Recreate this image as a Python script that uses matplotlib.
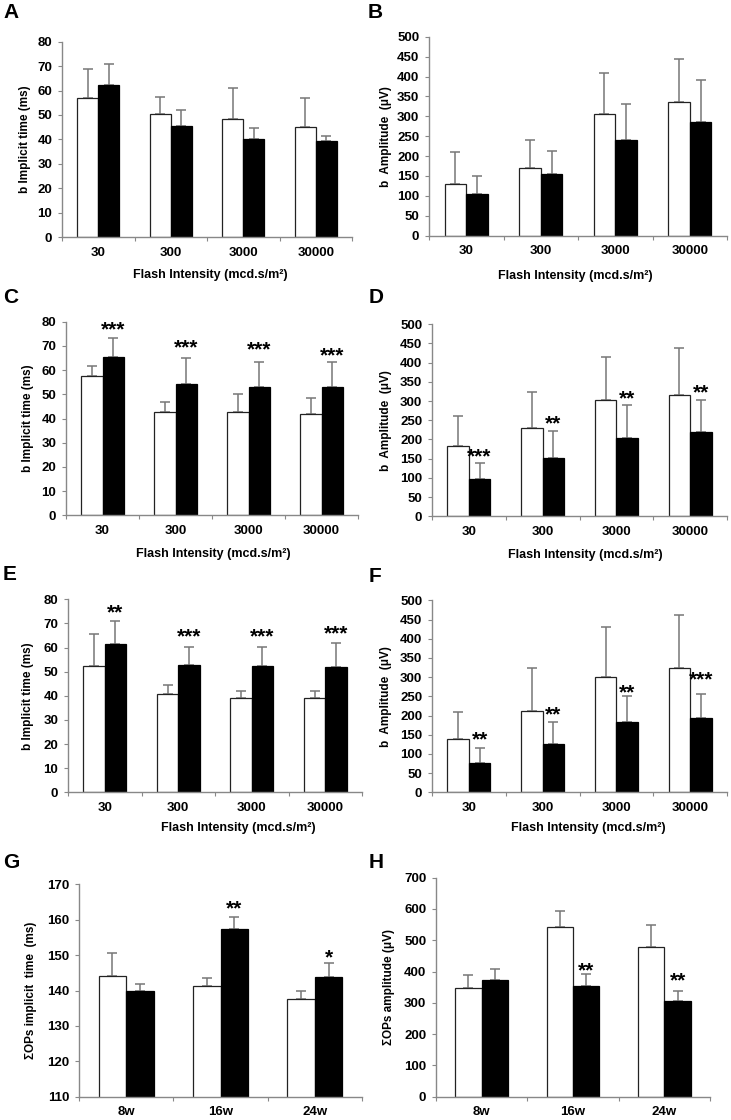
import numpy as np
import matplotlib
matplotlib.use("Agg")
import matplotlib.pyplot as plt

plt.rcParams['font.family'] = ['Liberation Sans', 'DejaVu Sans']
plt.rcParams['font.weight'] = 'bold'

W, H = 731, 1120

flash = ['30', '300', '3000', '30000']
weeks = ['8w', '16w', '24w']

# A: b-wave implicit time
a_white = [56.8, 50.3, 48.4, 45.0]
a_white_sd = [11.9, 6.9, 12.5, 11.8]
a_black = [62.3, 45.5, 40.2, 39.2]
a_black_sd = [8.5, 6.4, 4.5, 2.1]
a_stars = ['', '', '', '']
a_star_y = [0, 0, 0, 0]

# B: b-wave amplitude
b_white = [129, 169, 307, 337]
b_white_sd = [82, 71, 103, 107]
b_black = [105, 154, 240, 286]
b_black_sd = [45, 60, 92, 104]
b_stars = ['', '', '', '']
b_star_y = [0, 0, 0, 0]

# C
c_white = [57.6, 42.6, 42.8, 41.9]
c_white_sd = [4.0, 4.1, 7.5, 6.4]
c_black = [65.3, 54.3, 53.2, 52.9]
c_black_sd = [8.1, 10.9, 10.0, 10.3]
c_stars = ['***', '***', '***', '***']
c_star_y = [79.6, 72.0, 71.3, 68.6]

# D
d_white = [182, 229, 302, 315]
d_white_sd = [80, 95, 113, 123]
d_black = [97, 152, 203, 220]
d_black_sd = [41, 71, 87, 83]
d_stars = ['***', '**', '**', '**']
d_star_y = [173, 260, 325, 340]

# E
e_white = [52.3, 40.9, 39.0, 39.0]
e_white_sd = [13.3, 3.6, 3.1, 3.1]
e_black = [61.3, 52.6, 52.3, 51.9]
e_black_sd = [9.7, 7.8, 8.1, 9.8]
e_stars = ['**', '***', '***', '***']
e_star_y = [77.2, 67.3, 67.3, 68.6]

# F
f_white = [138, 213, 299, 324]
f_white_sd = [72, 111, 132, 139]
f_black = [75.5, 127, 184, 194]
f_black_sd = [40.5, 56, 66, 61]
f_stars = ['**', '**', '**', '***']
f_star_y = [156, 220, 277, 312]

# G: sum of OPs implicit time
g_white = [144.1, 141.2, 137.5]
g_white_sd = [6.4, 2.3, 2.4]
g_black = [139.9, 157.4, 143.8]
g_black_sd = [1.9, 3.5, 3.9]
g_stars = ['', '**', '*']
g_star_y = [0, 165.1, 151.3]

# H: sum of OPs amplitude
h_white = [348, 543, 479]
h_white_sd = [41, 51, 69]
h_black = [373, 354, 306]
h_black_sd = [36, 37, 31]
h_stars = ['', '**', '**']
h_star_y = [0, 423, 394]

fig = plt.figure(figsize=(W / 100, H / 100), dpi=100)


def panel(rect, letter, letter_xy, cats, white, white_sd, black, black_sd,
          stars, star_y, ylim, ystep, ylabel, ylabel_x, xlabel_xy=None):
    left, right, top, bottom = rect
    ax = fig.add_axes([left / W, 1 - bottom / H, (right - left) / W, (bottom - top) / H])
    x = np.arange(len(cats))
    w = 0.29
    ax.bar(x - w / 2, white, w, color='white', edgecolor='#222222', linewidth=0.9, zorder=2)
    ax.bar(x + w / 2, black, w, color='black', edgecolor='black', linewidth=0.9, zorder=2)
    for xs, m, sd in ((x - w / 2, white, white_sd), (x + w / 2, black, black_sd)):
        ax.errorbar(xs, m, yerr=[np.zeros(len(sd)), sd], fmt='none', ecolor='#777777',
                    elinewidth=1.1, capsize=3.5, capthick=1.1, zorder=1)
    for xi, s, sy in zip(x, stars, star_y):
        if s:
            ax.annotate(s, (xi + w / 2, sy), xytext=(0, -9), textcoords='offset points',
                        ha='center', va='baseline', fontsize=15, fontweight='bold')

    ax.set_xlim(-0.5, len(cats) - 0.5)
    ax.set_ylim(*ylim)
    ax.set_yticks(np.arange(ylim[0], ylim[1] + ystep / 2, ystep))
    ax.set_xticks(np.arange(-0.5, len(cats), 1.0))
    ax.set_xticklabels([])
    ax.set_xticks(x, minor=True)
    ax.set_xticklabels(cats, minor=True)
    ax.tick_params(axis='x', which='major', length=3, color='#888888', direction='out')
    ax.tick_params(axis='x', which='minor', length=0, pad=7, labelsize=9.5)
    ax.tick_params(axis='y', length=3, color='#888888', direction='out', pad=4, labelsize=9.5)
    for side in ('top', 'right'):
        ax.spines[side].set_visible(False)
    for side in ('left', 'bottom'):
        ax.spines[side].set_color('#888888')
        ax.spines[side].set_linewidth(1.0)

    yc = (top + bottom) / 2
    fig.text(ylabel_x / W, 1 - yc / H, ylabel, rotation=90, ha='center', va='center',
             fontsize=8.5, fontweight='bold')
    if xlabel_xy is not None:
        fig.text(xlabel_xy[0] / W, 1 - xlabel_xy[1] / H, 'Flash Intensity (mcd.s/m²)',
                 ha='center', va='center', fontsize=9, fontweight='bold')
    fig.text(letter_xy[0] / W, 1 - letter_xy[1] / H, letter, ha='left', va='center',
             fontsize=15, fontweight='bold')
    return ax


panel((62, 352, 41.7, 237), 'A', (3, 13), flash, a_white, a_white_sd, a_black, a_black_sd,
      a_stars, a_star_y, (0, 80), 10, 'b Implicit time (ms)', 25, (210, 275))
panel((429, 727, 36.7, 235.7), 'B', (368, 13), flash, b_white, b_white_sd, b_black, b_black_sd,
      b_stars, b_star_y, (0, 500), 50, 'b  Amplitude  (μV)', 386, (575, 276))
panel((66, 358, 321.7, 515.3), 'C', (3, 298), flash, c_white, c_white_sd, c_black, c_black_sd,
      c_stars, c_star_y, (0, 80), 10, 'b Implicit time (ms)', 28, (213, 554))
panel((432, 727, 324.3, 516.3), 'D', (369, 298), flash, d_white, d_white_sd, d_black, d_black_sd,
      d_stars, d_star_y, (0, 500), 50, 'b  Amplitude  (μV)', 386, (585, 555))
panel((68, 362, 599.3, 792.3), 'E', (3, 574), flash, e_white, e_white_sd, e_black, e_black_sd,
      e_stars, e_star_y, (0, 80), 10, 'b Implicit time (ms)', 28, (238, 828))
panel((432, 727, 600.3, 792.3), 'F', (369, 577), flash, f_white, f_white_sd, f_black, f_black_sd,
      f_stars, f_star_y, (0, 500), 50, 'b  Amplitude  (μV)', 386, (588, 828))
panel((79, 362, 884.3, 1096.7), 'G', (3, 862), weeks, g_white, g_white_sd, g_black, g_black_sd,
      g_stars, g_star_y, (110, 170), 10, 'ΣOPs implicit  time  (ms)', 31)
panel((436, 710, 877.7, 1096.7), 'H', (369, 863), weeks, h_white, h_white_sd, h_black, h_black_sd,
      h_stars, h_star_y, (0, 700), 100, 'ΣOPs amplitude (μV)', 389)

fig.savefig('out.png', dpi=100)
